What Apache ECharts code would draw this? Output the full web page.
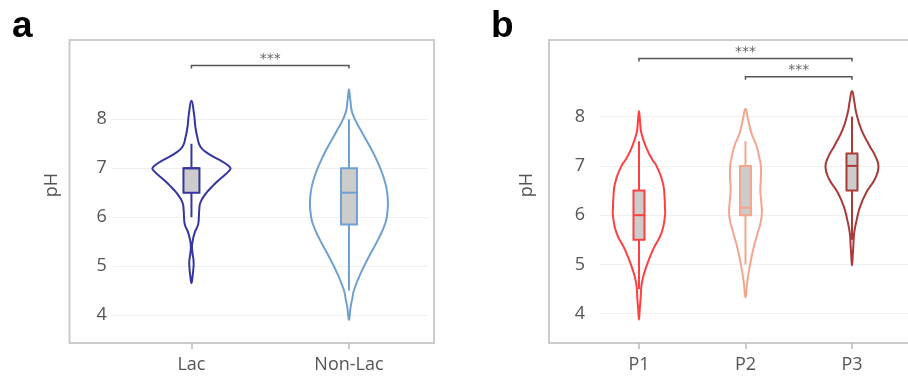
<!DOCTYPE html>
<html>
<head>
<meta charset="utf-8">
<script src="https://cdn.jsdelivr.net/npm/echarts@6/dist/echarts.min.js"></script>
<style>
  html, body { margin: 0; padding: 0; background: #ffffff; }
  #chart { width: 908px; height: 376px; }
</style>
</head>
<body>
<div id="chart"></div>
<script>
// ---- Panel a: lactating vs non-lactating ----
const groupsA = ['Lac', 'Non-Lac'];

// kernel density profiles (pH grid + relative density, max = 1 per panel scale)
const lacPH      = [4.65, 4.8, 4.95, 5.1, 5.25, 5.4, 5.55, 5.7, 5.85, 6.0, 6.15, 6.3, 6.45, 6.55, 6.65, 6.75, 6.85, 6.95, 7.0, 7.08, 7.17, 7.31, 7.44, 7.64, 7.85, 8.12, 8.38];
const lacDensity = [0, 0.03, 0.05, 0.055, 0.03, 0.015, 0.04, 0.09, 0.17, 0.19, 0.2, 0.23, 0.34, 0.44, 0.56, 0.69, 0.84, 0.97, 1.0, 0.9, 0.72, 0.41, 0.23, 0.15, 0.1, 0.064, 0];

const nonLacPH      = [3.9, 4.17, 4.33, 4.51, 4.85, 5.19, 5.53, 5.87, 6.1, 6.28, 6.5, 6.76, 7.1, 7.44, 7.78, 8.12, 8.39, 8.61];
const nonLacDensity = [0, 0.044, 0.085, 0.13, 0.3, 0.51, 0.74, 0.93, 0.985, 1.0, 0.98, 0.91, 0.75, 0.54, 0.3, 0.09, 0.035, 0];

// box statistics: [lower whisker, Q1, median, Q3, upper whisker]
const lacBox    = [6.0, 6.5, 7.0, 7.0, 7.5];
const nonLacBox = [4.5, 5.85, 6.5, 7.0, 8.0];

// ---- Panel b: parity groups ----
const groupsB = ['P1', 'P2', 'P3'];

const p1PH      = [3.88, 4.1, 4.29, 4.63, 4.96, 5.3, 5.64, 5.98, 6.15, 6.32, 6.66, 7.0, 7.13, 7.34, 7.67, 7.9, 8.11];
const p1Density = [0, 0.03, 0.06, 0.11, 0.28, 0.53, 0.85, 0.98, 0.98, 0.97, 0.9, 0.66, 0.5, 0.3, 0.09, 0.04, 0];

const p2PH      = [4.33, 4.63, 4.96, 5.3, 5.64, 5.85, 6.05, 6.3, 6.5, 6.75, 7.0, 7.2, 7.4, 7.67, 7.95, 8.16];
const p2Density = [0, 0.064, 0.16, 0.29, 0.46, 0.57, 0.62, 0.59, 0.56, 0.58, 0.58, 0.51, 0.42, 0.22, 0.094, 0];

const p3PH      = [4.98, 5.2, 5.37, 5.64, 5.91, 6.18, 6.46, 6.73, 6.98, 7.2, 7.4, 7.74, 8.08, 8.3, 8.52];
const p3Density = [0, 0.03, 0.05, 0.083, 0.18, 0.31, 0.54, 0.86, 1.0, 0.88, 0.67, 0.35, 0.16, 0.09, 0];

const p1Box = [4.5, 5.5, 6.0, 6.5, 7.5];
const p2Box = [5.0, 6.0, 6.15, 7.0, 7.5];
const p3Box = [5.5, 6.5, 7.0, 7.25, 8.0];

// y tick labels shared by both panels
const phTicks = [4, 5, 6, 7, 8];

// significance brackets: [from group, to group, bracket height (pH), label]
const sigA = [[0, 1, 9.1, '***']];
const sigB = [[0, 2, 9.18, '***'], [1, 2, 8.81, '***']];

// ---- styling ----
const colorsA = ['#3535a3', '#6fa0cf'];
const colorsB = ['#ff4040', '#f3a68c', '#a83a3a'];
const textColor = '#555555';
const labelFont = '"Open Sans", "Noto Sans", sans-serif';

function violinSeries(axisIndex, pos, ph, dens, maxHalf, color) {
  return {
    type: 'custom',
    xAxisIndex: axisIndex,
    yAxisIndex: axisIndex,
    silent: true,
    z: 2,
    data: [[pos, ph[0], ph[ph.length - 1]]],
    encode: { x: 0, y: [1, 2] },
    renderItem: function (params, api) {
      const x = api.value(0);
      const right = [];
      const left = [];
      for (let i = 0; i < ph.length; i++) {
        const p = api.coord([x, ph[i]]);
        const w = dens[i] * maxHalf;
        right.push([p[0] + w, p[1]]);
        left.push([p[0] - w, p[1]]);
      }
      const pts = right.concat(left.slice(1, -1).reverse());
      return {
        type: 'polygon',
        shape: { points: pts, smooth: 0.5 },
        style: { fill: 'none', stroke: color, lineWidth: 2 }
      };
    }
  };
}

function boxSeries(axisIndex, boxes, colors, halfWidth, lineWidth) {
  return {
    type: 'custom',
    xAxisIndex: axisIndex,
    yAxisIndex: axisIndex,
    silent: true,
    z: 3,
    data: boxes.map((b, i) => [i].concat(b)),
    encode: { x: 0, y: [1, 5] },
    renderItem: function (params, api) {
      const x = api.value(0);
      const lo = api.coord([x, api.value(1)]);
      const q1 = api.coord([x, api.value(2)]);
      const md = api.coord([x, api.value(3)]);
      const q3 = api.coord([x, api.value(4)]);
      const hi = api.coord([x, api.value(5)]);
      const c = colors[params.dataIndex];
      return {
        type: 'group',
        children: [
          { type: 'line', shape: { x1: lo[0], y1: lo[1], x2: hi[0], y2: hi[1] },
            style: { stroke: c, lineWidth: lineWidth } },
          { type: 'rect', shape: { x: q3[0] - halfWidth, y: q3[1], width: halfWidth * 2, height: q1[1] - q3[1] },
            style: { fill: '#cccccc', stroke: c, lineWidth: lineWidth } },
          { type: 'line', shape: { x1: md[0] - halfWidth, y1: md[1], x2: md[0] + halfWidth, y2: md[1] },
            style: { stroke: c, lineWidth: lineWidth } }
        ]
      };
    }
  };
}

function bracketSeries(axisIndex, sig) {
  return {
    type: 'custom',
    xAxisIndex: axisIndex,
    yAxisIndex: axisIndex,
    silent: true,
    z: 4,
    data: sig.map(s => [s[0], s[1], s[2]]),
    encode: { x: [0, 1], y: 2 },
    renderItem: function (params, api) {
      const a = api.coord([api.value(0), api.value(2)]);
      const b = api.coord([api.value(1), api.value(2)]);
      const drop = 3;
      return {
        type: 'group',
        children: [
          { type: 'polyline',
            shape: { points: [[a[0], a[1] + drop], [a[0], a[1]], [b[0], a[1]], [b[0], a[1] + drop]] },
            style: { fill: 'none', stroke: '#555555', lineWidth: 1.5 } },
          { type: 'text',
            style: { x: (a[0] + b[0]) / 2, y: a[1] + 1, text: sig[params.dataIndex][3],
                     align: 'center', verticalAlign: 'bottom',
                     font: '14px "DejaVu Sans", sans-serif', fill: '#666666' } }
        ]
      };
    }
  };
}

function yAxisDef(gridIndex, min, max, margin) {
  return {
    type: 'value',
    gridIndex: gridIndex,
    min: min,
    max: max,
    axisLine: { show: false },
    axisTick: { show: false, customValues: phTicks },
    axisLabel: { customValues: phTicks, margin: margin, fontSize: 18, color: textColor, fontFamily: labelFont },
    splitLine: { show: true, lineStyle: { color: '#efefef', width: 1 } }
  };
}

const chart = echarts.init(document.getElementById('chart'), null, { renderer: 'canvas' });

chart.setOption({
  animation: false,
  backgroundColor: '#ffffff',
  grid: [
    { left: 112.7, right: 480.3, top: 40, bottom: 33 },
    { left: 600, right: 0, top: 40, bottom: 33 }
  ],
  xAxis: [
    {
      type: 'category',
      gridIndex: 0,
      data: groupsA,
      axisLine: { show: false },
      axisTick: { show: true, alignWithLabel: true, length: 6, lineStyle: { color: '#bbbbbb', width: 1.5 } },
      axisLabel: { margin: 13, fontSize: 18, color: textColor, fontFamily: labelFont },
      splitLine: { show: false }
    },
    {
      type: 'value',
      gridIndex: 1,
      min: -0.366,
      max: 2.526,
      axisLine: { show: false },
      axisTick: { show: true, customValues: [0, 1, 2], length: 6, lineStyle: { color: '#bbbbbb', width: 1.5 } },
      axisLabel: { customValues: [0, 1, 2], formatter: v => groupsB[Math.round(v)], margin: 13,
                   fontSize: 18, color: textColor, fontFamily: labelFont },
      splitLine: { show: false }
    }
  ],
  yAxis: [
    yAxisDef(0, 3.428, 9.621, 6),
    yAxisDef(1, 3.406, 9.555, 15)
  ],
  graphic: [
    { type: 'rect', z: -10, silent: true,
      shape: { x: 69.5, y: 40, width: 364.5, height: 303 },
      style: { fill: 'none', stroke: '#cccccc', lineWidth: 2 } },
    { type: 'rect', z: -10, silent: true,
      shape: { x: 549, y: 40, width: 420, height: 303 },
      style: { fill: 'none', stroke: '#cccccc', lineWidth: 2 } },
    { type: 'text', silent: true, x: 12, y: 27,
      style: { text: 'a', font: 'bold 37px "Liberation Sans", Arial, sans-serif', fill: '#000000',
               align: 'left', verticalAlign: 'middle' } },
    { type: 'text', silent: true, x: 491, y: 27,
      style: { text: 'b', font: 'bold 37px "Liberation Sans", Arial, sans-serif', fill: '#000000',
               align: 'left', verticalAlign: 'middle' } },
    { type: 'text', silent: true, x: 52, y: 185, rotation: Math.PI / 2,
      style: { text: 'pH', font: '18px "Open Sans", sans-serif', fill: textColor,
               align: 'center', verticalAlign: 'middle' } },
    { type: 'text', silent: true, x: 527, y: 185, rotation: Math.PI / 2,
      style: { text: 'pH', font: '18px "Open Sans", sans-serif', fill: textColor,
               align: 'center', verticalAlign: 'middle' } }
  ],
  series: [
    violinSeries(0, 0, lacPH, lacDensity, 39, colorsA[0]),
    violinSeries(0, 1, nonLacPH, nonLacDensity, 39, colorsA[1]),
    boxSeries(0, [lacBox, nonLacBox], colorsA, 8, 2),
    bracketSeries(0, sigA),
    violinSeries(1, 0, p1PH, p1Density, 26.5, colorsB[0]),
    violinSeries(1, 1, p2PH, p2Density, 26.5, colorsB[1]),
    violinSeries(1, 2, p3PH, p3Density, 26.5, colorsB[2]),
    boxSeries(1, [p1Box, p2Box, p3Box], colorsB, 5.5, 2),
    bracketSeries(1, sigB)
  ]
});
</script>
</body>
</html>
